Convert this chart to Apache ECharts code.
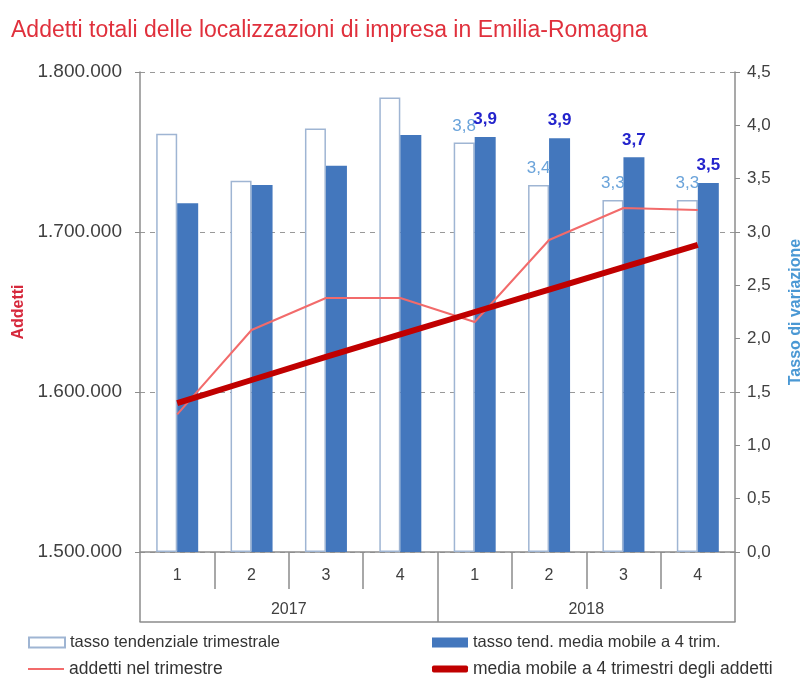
<!DOCTYPE html>
<html>
<head>
<meta charset="utf-8">
<script src="https://cdn.jsdelivr.net/npm/echarts@6/dist/echarts.min.js"></script>
<style>
  html, body { margin: 0; padding: 0; background: #fff; }
  #chart { width: 812px; height: 681px; }
</style>
</head>
<body>
<div id="chart"></div>
<script>
// dati
const years = ['2017', '2018']
const quarters = ['1', '2', '3', '4', '1', '2', '3', '4']
const tassoTrim = [3.92, 3.48, 3.97, 4.26, 3.84, 3.44, 3.30, 3.30]
const tassoMedia = [3.27, 3.44, 3.62, 3.91, 3.89, 3.88, 3.70, 3.46]
const addettiTrim = [1586000, 1638750, 1658750, 1658750, 1643750, 1695000, 1715000, 1713750]
const addettiMedia = [1593000, 1607500, 1622000, 1636000, 1650000, 1664000, 1678000, 1692000]
const leftTicks = [1500000, 1600000, 1700000, 1800000]
const rightTicks = [0, 0.5, 1, 1.5, 2, 2.5, 3, 3.5, 4, 4.5]

const names = [
  'tasso tendenziale trimestrale',
  'tasso tend. media mobile a 4 trim.',
  'addetti nel trimestre',
  'media mobile a 4 trimestri degli addetti'
]

const font = 'Liberation Sans, Arial, sans-serif'
const gray = '#8c8c8c'
const labelFrom = 4 // etichette solo per il 2018

const fmtDec = v => Number(v).toFixed(1).replace('.', ',')
const fmtThousands = v => String(v).replace(/\B(?=(\d{3})+(?!\d))/g, '.')

// una chiave unica per ogni trimestre
const categories = quarters.map((q, i) => years[Math.floor(i / 4)] + '-' + q)

function barData(values, labelStyle) {
  return values.map((v, i) => ({
    value: v,
    label: i >= labelFrom ? Object.assign({ show: true }, labelStyle) : { show: false }
  }))
}

// una legenda per voce, cosi ogni icona ha la sua altezza
function legendItem(name, left, top, w, h, icon, size) {
  return {
    data: [{ name: name, icon: icon }],
    left: left,
    top: top,
    itemWidth: w,
    itemHeight: h,
    textStyle: { fontSize: size, color: '#333', fontFamily: font }
  }
}

let myChart = echarts.init(document.getElementById('chart'))
let option = {
  animation: false,
  textStyle: { fontFamily: font },
  title: {
    text: 'Addetti totali delle localizzazioni di impresa in Emilia-Romagna',
    left: 6,
    top: 14,
    textStyle: { color: '#e0303c', fontSize: 23, fontWeight: 'normal', fontFamily: font }
  },
  grid: { left: 140, right: 76, top: 72, bottom: 129 },
  legend: [
    legendItem(names[0], 23, 629, 36, 10, 'rect', 16.5),
    legendItem(names[1], 427, 629, 36, 10, 'rect', 16.5),
    legendItem(names[2], 23, 655, 36, 2, 'rect', 17.5),
    legendItem(names[3], 427, 655, 36, 7, 'roundRect', 17.5)
  ],
  xAxis: [
    {
      type: 'category',
      data: categories,
      axisLine: { lineStyle: { color: gray, width: 1.5 } },
      axisTick: { show: true, interval: 0, length: 37, lineStyle: { color: gray, width: 1.5 } },
      axisLabel: {
        interval: 0,
        margin: 16,
        fontSize: 16,
        color: '#404040',
        formatter: v => v.split('-')[1]
      }
    },
    {
      type: 'category',
      data: years,
      position: 'bottom',
      axisLine: { show: false },
      axisTick: { show: true, interval: 0, length: 70, lineStyle: { color: gray, width: 1.5 } },
      axisLabel: { interval: 0, margin: 50, fontSize: 16, color: '#404040' }
    },
    {
      type: 'category',
      data: years,
      position: 'bottom',
      offset: 70,
      axisLine: { show: true, lineStyle: { color: gray, width: 1.5 } },
      axisTick: { show: false },
      axisLabel: { show: false }
    }
  ],
  yAxis: [
    {
      type: 'value',
      min: leftTicks[0],
      max: leftTicks[leftTicks.length - 1],
      interval: leftTicks[1] - leftTicks[0],
      name: 'Addetti',
      nameLocation: 'middle',
      nameGap: 112,
      nameTextStyle: { color: '#d6283c', fontSize: 16, fontWeight: 'bold', fontFamily: font },
      axisLine: { show: true, lineStyle: { color: gray, width: 1.5 } },
      axisTick: { show: true, length: 5, lineStyle: { color: gray } },
      axisLabel: { margin: 18, fontSize: 19, color: '#404040', formatter: fmtThousands },
      splitLine: { show: true, lineStyle: { color: '#999', type: [5, 5], width: 1 } }
    },
    {
      type: 'value',
      position: 'right',
      min: rightTicks[0],
      max: rightTicks[rightTicks.length - 1],
      interval: rightTicks[1] - rightTicks[0],
      name: 'Tasso di variazione',
      nameLocation: 'middle',
      nameGap: 53,
      nameTextStyle: { color: '#4a98d4', fontSize: 16, fontWeight: 'bold', fontFamily: font },
      axisLine: { show: true, lineStyle: { color: gray, width: 1.5 } },
      axisTick: { show: true, length: 5, lineStyle: { color: gray } },
      axisLabel: { margin: 12, fontSize: 17, color: '#404040', formatter: fmtDec },
      splitLine: { show: false }
    }
  ],
  series: [
    {
      name: names[0],
      type: 'bar',
      yAxisIndex: 1,
      barWidth: 21,
      barGap: '0%',
      itemStyle: { color: '#ffffff', borderColor: '#9fb5d3', borderWidth: 1.5 },
      data: barData(tassoTrim, { position: 'top', distance: 8, fontSize: 17, color: '#6aa3da', formatter: p => fmtDec(p.value) })
    },
    {
      name: names[1],
      type: 'bar',
      yAxisIndex: 1,
      barWidth: 21,
      barGap: '0%',
      itemStyle: { color: '#4377bd' },
      data: barData(tassoMedia, { position: 'top', distance: 9, fontSize: 17, fontWeight: 'bold', color: '#2424cc', formatter: p => fmtDec(p.value) })
    },
    {
      name: names[2],
      type: 'line',
      yAxisIndex: 0,
      symbol: 'none',
      lineStyle: { color: '#f26b6b', width: 2 },
      itemStyle: { color: '#f26b6b' },
      data: addettiTrim
    },
    {
      name: names[3],
      type: 'line',
      yAxisIndex: 0,
      symbol: 'none',
      lineStyle: { color: '#c00000', width: 6 },
      itemStyle: { color: '#c00000' },
      data: addettiMedia
    }
  ]
}
myChart.setOption(option, true)
</script>
</body>
</html>
